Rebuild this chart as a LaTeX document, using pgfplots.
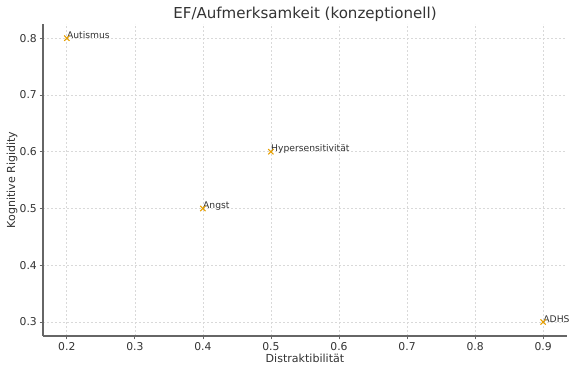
\documentclass[border=0pt]{standalone}
\usepackage{pgfplots}
\pgfplotsset{compat=1.18}
\usepackage{fontspec}
\setmainfont{DejaVu Sans}
\definecolor{mk}{RGB}{230,159,0}
\definecolor{txt}{RGB}{51,51,51}
\begin{document}
\begin{tikzpicture}[x=0.75pt,y=0.75pt]
\path[use as bounding box] (0,0) rectangle (576,372);
\begin{axis}[
  at={(43*0.75pt,36*0.75pt)}, anchor=south west,
  scale only axis, width=524*0.75pt, height=312*0.75pt,
  xmin=0.165, xmax=0.935, ymin=0.2754, ymax=0.825,
  axis x line*=bottom, axis y line*=left,
  axis line style={draw=black!60, line width=0.8pt},
  xtick={0.2,0.3,...,0.9}, ytick={0.3,0.4,...,0.8},
  xticklabel style={/pgf/number format/fixed, /pgf/number format/precision=1, yshift=1.5pt},
  yticklabel style={/pgf/number format/fixed, /pgf/number format/precision=1, xshift=1.5pt},
  /pgf/number format/assume math mode=true,
  tick align=outside, major tick length=2.6pt,
  tick style={black!60, line width=0.6pt},
  ticklabel style={font=\fontsize{8.1}{9.5}\selectfont, text=txt},
  grid=major, grid style={dash pattern=on 1.5pt off 1.5pt, black!15, line width=0.5pt},
  title={EF/Aufmerksamkeit (konzeptionell)},
  title style={font=\fontsize{11.3}{13}\selectfont, text=txt, at={(axis description cs:0.5,1)}, anchor=south, yshift=-7.75pt},
  xlabel={Distraktibilität}, ylabel={Kognitive Rigidity},
  label style={font=\fontsize{8.3}{10}\selectfont, text=txt},
  xlabel style={at={(axis description cs:0.5,-0.0705)}, anchor=center},
  ylabel style={at={(axis description cs:-0.0592,0.5)}, anchor=center},
  clip=false,
]
\addplot[only marks, mark=x, mark size=2.8pt, mk, line width=0.8pt]
  coordinates {(0.2,0.8) (0.4,0.5) (0.5,0.6) (0.9,0.3)};
\node[anchor=base west, inner sep=0pt, font=\fontsize{6.9}{8}\selectfont, text=txt] at (axis cs:0.2,0.8) {Autismus};
\node[anchor=base west, inner sep=0pt, font=\fontsize{6.9}{8}\selectfont, text=txt] at (axis cs:0.4,0.5) {Angst};
\node[anchor=base west, inner sep=0pt, font=\fontsize{6.9}{8}\selectfont, text=txt] at (axis cs:0.5,0.6) {Hypersensitivität};
\node[anchor=base west, inner sep=0pt, font=\fontsize{6.9}{8}\selectfont, text=txt] at (axis cs:0.9,0.3) {ADHS};
\end{axis}
\end{tikzpicture}
\end{document}
